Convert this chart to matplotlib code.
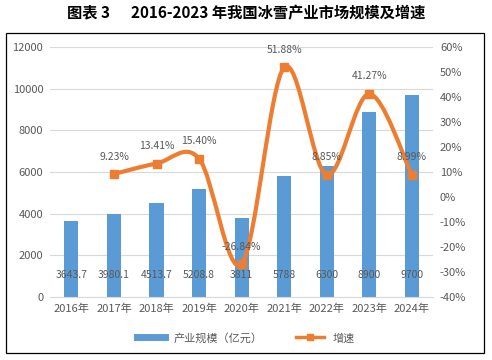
import matplotlib.pyplot as plt
import numpy as np
from matplotlib.path import Path
from matplotlib.patches import PathPatch, Rectangle
from matplotlib.lines import Line2D
from matplotlib.ticker import FuncFormatter

plt.rcParams['font.family'] = ['Noto Sans CJK SC', 'DejaVu Sans']

years = ['2016年', '2017年', '2018年', '2019年', '2020年', '2021年', '2022年', '2023年', '2024年']
scale = [3643.7, 3980.1, 4513.7, 5208.8, 3811, 5788, 6300, 8900, 9700]
scale_labels = ['3643.7', '3980.1', '4513.7', '5208.8', '3811', '5788', '6300', '8900', '9700']
growth = [9.23, 13.41, 15.40, -26.84, 51.88, 8.85, 41.27, 8.99]
growth_idx = [1, 2, 3, 4, 5, 6, 7, 8]

blue = '#5B9BD5'
orange = '#ED7D31'
txt = '#595959'

fig = plt.figure(figsize=(4.92, 3.6), dpi=100)
ax = fig.add_axes([0.102, 0.175, 0.778, 0.694])
ax2 = ax.twinx()

x = np.arange(len(years))
ax.bar(x, scale, width=0.33, color=blue, zorder=2)
ax.set_xlim(-0.5, len(years) - 0.5)
ax.set_ylim(0, 12000)
ax.set_yticks(np.arange(0, 12001, 2000))
ax.grid(axis='y', color='#D9D9D9', linewidth=0.8, zorder=0)
ax.set_xticks(x)
ax.set_xticklabels(years)
ax.tick_params(length=0, labelsize=8, colors=txt, pad=5)
for s in ['top', 'left', 'right']:
    ax.spines[s].set_visible(False)
ax.spines['bottom'].set_color('#D9D9D9')

for i, lab in zip(x, scale_labels):
    ax.annotate(lab, (i, 0), xytext=(0, 16), textcoords='offset points',
                ha='center', va='center', fontsize=7.5, color=txt, zorder=4)

# smooth line (Bezier through data points, like Excel smoothing)
gx = np.array(growth_idx, dtype=float)
gy = np.array(growth, dtype=float)
verts = [(gx[0], gy[0])]
codes = [Path.MOVETO]
n = len(gx)
for i in range(n - 1):
    p0 = np.array([gx[max(i - 1, 0)], gy[max(i - 1, 0)]])
    p1 = np.array([gx[i], gy[i]])
    p2 = np.array([gx[i + 1], gy[i + 1]])
    p3 = np.array([gx[min(i + 2, n - 1)], gy[min(i + 2, n - 1)]])
    c1 = p1 + (p2 - p0) / 6
    c2 = p2 - (p3 - p1) / 6
    verts += [tuple(c1), tuple(c2), tuple(p2)]
    codes += [Path.CURVE4] * 3
ax2.add_patch(PathPatch(Path(verts, codes), facecolor='none', edgecolor=orange,
                        linewidth=3, capstyle='round', zorder=3))
ax2.plot(gx, gy, linestyle='none', marker='s', markersize=6, color=orange, zorder=4)

for i, v in zip(growth_idx, growth):
    ax2.annotate(f'{v:.2f}%', (i, v), xytext=(0, 9), textcoords='offset points',
                 ha='center', va='bottom', fontsize=7.5, color=txt, zorder=5)

ax2.set_ylim(-40, 60)
ax2.set_yticks(np.arange(-40, 61, 10))
ax2.yaxis.set_major_formatter(FuncFormatter(lambda v, p: f'{v:.0f}%'))
ax2.tick_params(length=0, labelsize=8, colors=txt, pad=5)
for s in ['top', 'left', 'right', 'bottom']:
    ax2.spines[s].set_visible(False)

fig.text(0.5, 1 - 13 / 360, '图表 3      2016-2023 年我国冰雪产业市场规模及增速',
         ha='center', va='center', fontsize=11, fontweight='bold', color='black')

fig.patches.append(Rectangle((6 / 492, 1 - 353 / 360), 478 / 492, 320 / 360,
                             transform=fig.transFigure, fill=False,
                             edgecolor='black', linewidth=0.9))

handles = [Line2D([], [], color=blue, linewidth=5),
           Line2D([], [], color=orange, linewidth=2.5, marker='s', markersize=5)]
fig.legend(handles, ['产业规模（亿元）', '增速'], loc='center',
           bbox_to_anchor=(0.5, 1 - 338 / 360), ncol=2, frameon=False,
           fontsize=8, labelcolor=txt, handlelength=2.5, columnspacing=3)

fig.savefig('out.png', dpi=100)
